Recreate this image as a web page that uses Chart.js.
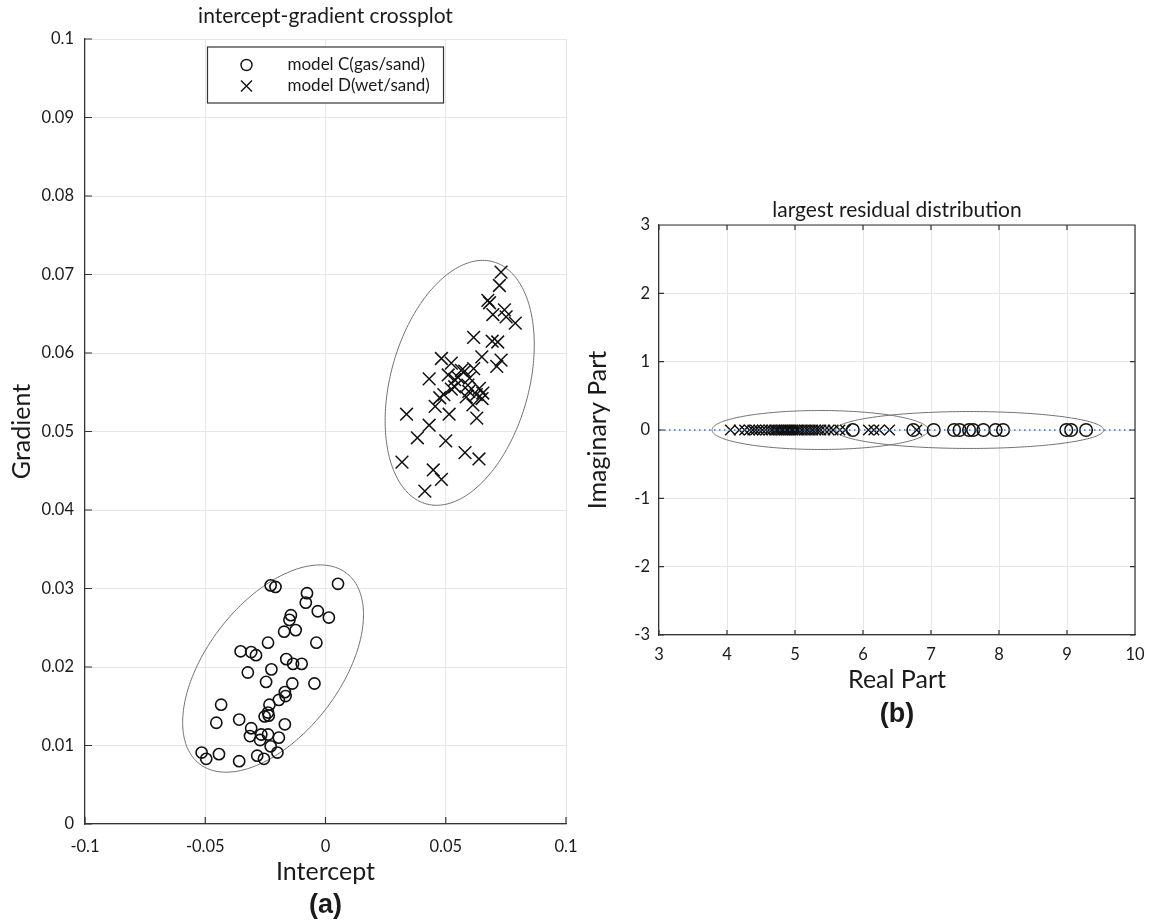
<!DOCTYPE html>
<html>
<head>
<meta charset="utf-8">
<script src="https://cdn.jsdelivr.net/npm/chart.js@4.4.1/dist/chart.umd.min.js"></script>
<style>
  html, body { margin: 0; padding: 0; background: #fff; }
  #wrap { position: relative; width: 1150px; height: 923px; }
  #crossplot { position: absolute; left: 0; top: 0; }
  #residual { position: absolute; left: 580px; top: 0; }
</style>
</head>
<body>
<div id="wrap">
  <canvas id="crossplot" width="580" height="923"></canvas>
  <canvas id="residual" width="570" height="923"></canvas>
</div>
<script>
// (a) intercept-gradient crossplot
const gasSandIntercept = [-0.0228, -0.0208, 0.0052, -0.0077, -0.0082, -0.0032, 0.0014, -0.0144, -0.0150, -0.0172,
  -0.0124, -0.0038, -0.0239, -0.0353, -0.0309, -0.0289, -0.0163, -0.0135, -0.0099, -0.0225,
  -0.0323, -0.0247, -0.0138, -0.0046, -0.0169, -0.0166, -0.0194, -0.0233, -0.0434, -0.0239,
  -0.0253, -0.0236, -0.0359, -0.0454, -0.0169, -0.0309, -0.0314, -0.0267, -0.0239, -0.0272,
  -0.0194, -0.0228, -0.0200, -0.0515, -0.0496, -0.0443, -0.0359, -0.0284, -0.0256];
const gasSandGradient = [0.0304, 0.0302, 0.0306, 0.0294, 0.0282, 0.0271, 0.0263, 0.0266, 0.0260, 0.0245,
  0.0247, 0.0231, 0.0231, 0.0220, 0.0219, 0.0215, 0.0210, 0.0204, 0.0204, 0.0197,
  0.0193, 0.0181, 0.0179, 0.0179, 0.0168, 0.0163, 0.0158, 0.0152, 0.0152, 0.0142,
  0.0137, 0.0138, 0.0133, 0.0129, 0.0127, 0.0122, 0.0112, 0.0114, 0.0114, 0.0107,
  0.0110, 0.0099, 0.0091, 0.0091, 0.0083, 0.0089, 0.0080, 0.0087, 0.0083];

const wetSandIntercept = [0.0730, 0.0723, 0.0675, 0.0682, 0.0696, 0.0744, 0.0751, 0.0789, 0.0616, 0.0693,
  0.0716, 0.0650, 0.0730, 0.0712, 0.0482, 0.0523, 0.0565, 0.0579, 0.0616, 0.0431,
  0.0510, 0.0537, 0.0537, 0.0523, 0.0592, 0.0596, 0.0627, 0.0654, 0.0585, 0.0492,
  0.0613, 0.0651, 0.0456, 0.0514, 0.0629, 0.0337, 0.0431, 0.0382, 0.0500, 0.0580,
  0.0638, 0.0318, 0.0448, 0.0482, 0.0413, 0.0551, 0.0599, 0.0640, 0.0475];
const wetSandGradient = [0.0703, 0.0686, 0.0667, 0.0664, 0.0649, 0.0655, 0.0646, 0.0638, 0.0620, 0.0615,
  0.0614, 0.0595, 0.0591, 0.0583, 0.0593, 0.0587, 0.0578, 0.0577, 0.0580, 0.0567,
  0.0572, 0.0566, 0.0557, 0.0554, 0.0559, 0.0551, 0.0547, 0.0549, 0.0544, 0.0547,
  0.0534, 0.0542, 0.0532, 0.0522, 0.0517, 0.0522, 0.0508, 0.0492, 0.0488, 0.0473,
  0.0465, 0.0461, 0.0451, 0.0439, 0.0424, 0.0569, 0.0568, 0.0555, 0.0543];

// ellipses: [centre x, centre y, half width x, half width y, correlation]
const gasSandEllipse = [-0.0218, 0.0198, 0.0376, 0.0132, 0.52];
const wetSandEllipse = [0.0558, 0.0562, 0.0310, 0.0156, 0.31];

const interceptTicks = [-0.1, -0.05, 0, 0.05, 0.1];
const gradientTicks = [0, 0.01, 0.02, 0.03, 0.04, 0.05, 0.06, 0.07, 0.08, 0.09, 0.1];

// (b) largest residual distribution, imaginary part is 0 everywhere
const gasSandReal = [5.85, 6.74, 7.04, 7.34, 7.42, 7.56, 7.62, 7.77, 7.95, 8.06, 8.99, 9.06, 9.28];
const wetSandReal = [4.05, 4.18, 4.26, 4.33, 4.38, 4.42, 4.47, 4.52, 4.57, 4.62,
  4.66, 4.70, 4.73, 4.76, 4.79, 4.82, 4.85, 4.88, 4.91, 4.94,
  4.97, 5.00, 5.03, 5.06, 5.10, 5.14, 5.18, 5.22, 5.26, 5.30,
  5.34, 5.38, 5.44, 5.50, 5.56, 5.66, 5.74, 6.08, 6.16, 6.24, 6.39, 6.79];
const zeroLineReal = [3, 10];
const gasResidEllipse = [7.57, 0, 1.97, 0.27, 0];
const wetResidEllipse = [5.37, 0, 1.59, 0.285, 0];

const realTicks = [3, 4, 5, 6, 7, 8, 9, 10];
const imagTicks = [-3, -2, -1, 0, 1, 2, 3];

const fontFamily = 'Lato, "Open Sans", sans-serif';
const axisColor = '#333333';
const gridColor = '#e6e6e6';
const textColor = '#1a1a1a';
const markColor = '#111111';

// inward tick marks and optional top/right box, like the original figure
const matlabAxes = {
  id: 'matlabAxes',
  afterDatasetsDraw(chart, args, opts) {
    const ctx = chart.ctx;
    const { left, right, top, bottom } = chart.chartArea;
    const xs = chart.scales.x, ys = chart.scales.y;
    ctx.save();
    ctx.strokeStyle = axisColor;
    ctx.lineWidth = 1.2;
    ctx.beginPath();
    xs.ticks.forEach(t => {
      const px = xs.getPixelForValue(t.value);
      ctx.moveTo(px, bottom); ctx.lineTo(px, bottom - opts.length);
      if (opts.box) { ctx.moveTo(px, top); ctx.lineTo(px, top + opts.length); }
    });
    ys.ticks.forEach(t => {
      const py = ys.getPixelForValue(t.value);
      ctx.moveTo(left, py); ctx.lineTo(left + opts.length, py);
      if (opts.box) { ctx.moveTo(right, py); ctx.lineTo(right - opts.length, py); }
    });
    if (opts.box) {
      ctx.moveTo(left, top); ctx.lineTo(right, top); ctx.lineTo(right, bottom);
    }
    ctx.stroke();
    ctx.restore();
  }
};

// confidence ellipses drawn through the chart scales
const ellipses = {
  id: 'ellipses',
  beforeDatasetsDraw(chart, args, opts) {
    const ctx = chart.ctx;
    const xs = chart.scales.x, ys = chart.scales.y;
    ctx.save();
    ctx.strokeStyle = '#707070';
    ctx.lineWidth = 1;
    opts.list.forEach(([cx, cy, sx, sy, rho]) => {
      ctx.beginPath();
      for (let i = 0; i <= 240; i++) {
        const t = i / 240 * 2 * Math.PI;
        const dx = sx * Math.cos(t);
        const dy = sy * (rho * Math.cos(t) + Math.sqrt(1 - rho * rho) * Math.sin(t));
        const px = xs.getPixelForValue(cx + dx), py = ys.getPixelForValue(cy + dy);
        if (i === 0) ctx.moveTo(px, py); else ctx.lineTo(px, py);
      }
      ctx.closePath();
      ctx.stroke();
    });
    ctx.restore();
  }
};

// boxed legend inside the plot, top centre
const boxLegend = {
  id: 'boxLegend',
  afterDraw(chart, args, opts) {
    if (!opts.show) return;
    const ctx = chart.ctx;
    const area = chart.chartArea;
    const w = 236, h = 56;
    const x0 = (area.left + area.right) / 2 - w / 2, y0 = area.top + 8;
    ctx.save();
    ctx.fillStyle = '#fff';
    ctx.fillRect(x0, y0, w, h);
    ctx.strokeStyle = axisColor;
    ctx.lineWidth = 1.2;
    ctx.strokeRect(x0, y0, w, h);
    ctx.font = '17px ' + fontFamily;
    ctx.textBaseline = 'middle';
    ctx.textAlign = 'left';
    chart.data.datasets.forEach((ds, i) => {
      const my = y0 + 18 + i * 21, mx = x0 + 39;
      ctx.strokeStyle = markColor;
      ctx.lineWidth = 1.4;
      ctx.beginPath();
      if (ds.pointStyle === 'circle') {
        ctx.arc(mx, my, 5.5, 0, 2 * Math.PI);
      } else {
        ctx.moveTo(mx - 5.5, my - 5.5); ctx.lineTo(mx + 5.5, my + 5.5);
        ctx.moveTo(mx - 5.5, my + 5.5); ctx.lineTo(mx + 5.5, my - 5.5);
      }
      ctx.stroke();
      ctx.fillStyle = textColor;
      ctx.fillText(ds.label, x0 + 80, my);
    });
    ctx.restore();
  }
};

function fixedTicks(values) {
  return scale => { scale.ticks = values.map(value => ({ value })); };
}

function labelAxis(position, weight, size, text, font, pad) {
  return {
    type: 'linear', position: position, weight: weight, min: 0, max: 1,
    afterFit: scale => { scale.height = size; scale.paddingLeft = 0; scale.paddingRight = 0; },
    grid: { display: false, drawTicks: false },
    border: { display: false },
    ticks: { display: false },
    title: { display: true, text: text, color: textColor, font: font, padding: pad }
  };
}

function numberAxis(min, max, ticks, title, titlePad, tickPad, fit) {
  return {
    type: 'linear', min: min, max: max,
    afterBuildTicks: fixedTicks(ticks),
    afterFit: fit,
    grid: { color: gridColor, lineWidth: 1, drawTicks: false },
    border: { display: true, color: axisColor, width: 1.2 },
    ticks: {
      padding: tickPad, color: textColor, autoSkip: false, maxRotation: 0,
      font: { family: fontFamily, size: 16.5 },
      callback: v => String(v)
    },
    title: { display: true, text: title, color: textColor, font: { family: fontFamily, size: 25 }, padding: titlePad }
  };
}

// fixed axis sizes so the plot boxes land where the original has them
const fitX = h => s => { s.height = h; s.paddingLeft = 0; s.paddingRight = 0; };
const fitY = w => s => { s.width = w; };

const pts = (xs, ys) => xs.map((v, i) => ({ x: v, y: ys[i] }));
const panelFont = { family: '"Liberation Sans", Arial, sans-serif', size: 27, weight: 'bold' };
const titleFont = { family: fontFamily, size: 21 };

new Chart(document.getElementById('crossplot'), {
  type: 'scatter',
  data: {
    datasets: [
      {
        label: 'model C(gas/sand)', data: pts(gasSandIntercept, gasSandGradient),
        pointStyle: 'circle', pointRadius: 5.6, borderWidth: 1.6,
        borderColor: markColor, backgroundColor: 'transparent'
      },
      {
        label: 'model D(wet/sand)', data: pts(wetSandIntercept, wetSandGradient),
        pointStyle: 'crossRot', pointRadius: 9, borderWidth: 1.5,
        borderColor: markColor, backgroundColor: 'transparent'
      }
    ]
  },
  options: {
    responsive: false, animation: false,
    layout: { padding: { left: 0, right: 14, top: 0, bottom: 0 } },
    scales: {
      x: numberAxis(-0.1, 0.1, interceptTicks, 'Intercept', { top: 0, bottom: 3 }, 13, fitX(66)),
      y: numberAxis(0, 0.1, gradientTicks, 'Gradient', { top: 7, bottom: 0 }, 11, fitY(85)),
      xPanel: labelAxis('bottom', 1, 33, '(a)', panelFont, { top: 0, bottom: 0.8 }),
      xTop: labelAxis('top', 1, 39, 'intercept-gradient crossplot', titleFont, { top: 3.4, bottom: 0 })
    },
    plugins: {
      legend: { display: false },
      tooltip: { enabled: false },
      matlabAxes: { length: 7, box: false },
      ellipses: { list: [gasSandEllipse, wetSandEllipse] },
      boxLegend: { show: true }
    }
  },
  plugins: [ellipses, matlabAxes, boxLegend]
});

new Chart(document.getElementById('residual'), {
  type: 'scatter',
  data: {
    datasets: [
      {
        type: 'line', label: 'zero', data: zeroLineReal.map(v => ({ x: v, y: 0 })),
        borderColor: '#2f6fbf', borderWidth: 1.3, borderDash: [1.5, 3.5], pointRadius: 0, fill: false
      },
      {
        label: 'model C(gas/sand)', data: gasSandReal.map(v => ({ x: v, y: 0 })),
        pointStyle: 'circle', pointRadius: 6.3, borderWidth: 1.6,
        borderColor: markColor, backgroundColor: 'transparent'
      },
      {
        label: 'model D(wet/sand)', data: wetSandReal.map(v => ({ x: v, y: 0 })),
        pointStyle: 'crossRot', pointRadius: 7.5, borderWidth: 1.4,
        borderColor: markColor, backgroundColor: 'transparent'
      }
    ]
  },
  options: {
    responsive: false, animation: false,
    layout: { padding: { left: 0, right: 15, top: 195, bottom: 191 } },
    scales: {
      x: numberAxis(3, 10, realTicks, 'Real Part', { top: 0, bottom: 5 }, 10, fitX(65)),
      y: numberAxis(-3, 3, imagTicks, 'Imaginary Part', { top: 3, bottom: 0 }, 9, fitY(79)),
      xPanel: labelAxis('bottom', 1, 32, '(b)', panelFont, { top: 0, bottom: 0.8 }),
      xTop: labelAxis('top', 1, 30, 'largest residual distribution', titleFont, { top: 2.4, bottom: 0 })
    },
    plugins: {
      legend: { display: false },
      tooltip: { enabled: false },
      matlabAxes: { length: 5, box: true },
      ellipses: { list: [wetResidEllipse, gasResidEllipse] },
      boxLegend: { show: false }
    }
  },
  plugins: [ellipses, matlabAxes, boxLegend]
});
</script>
</body>
</html>
